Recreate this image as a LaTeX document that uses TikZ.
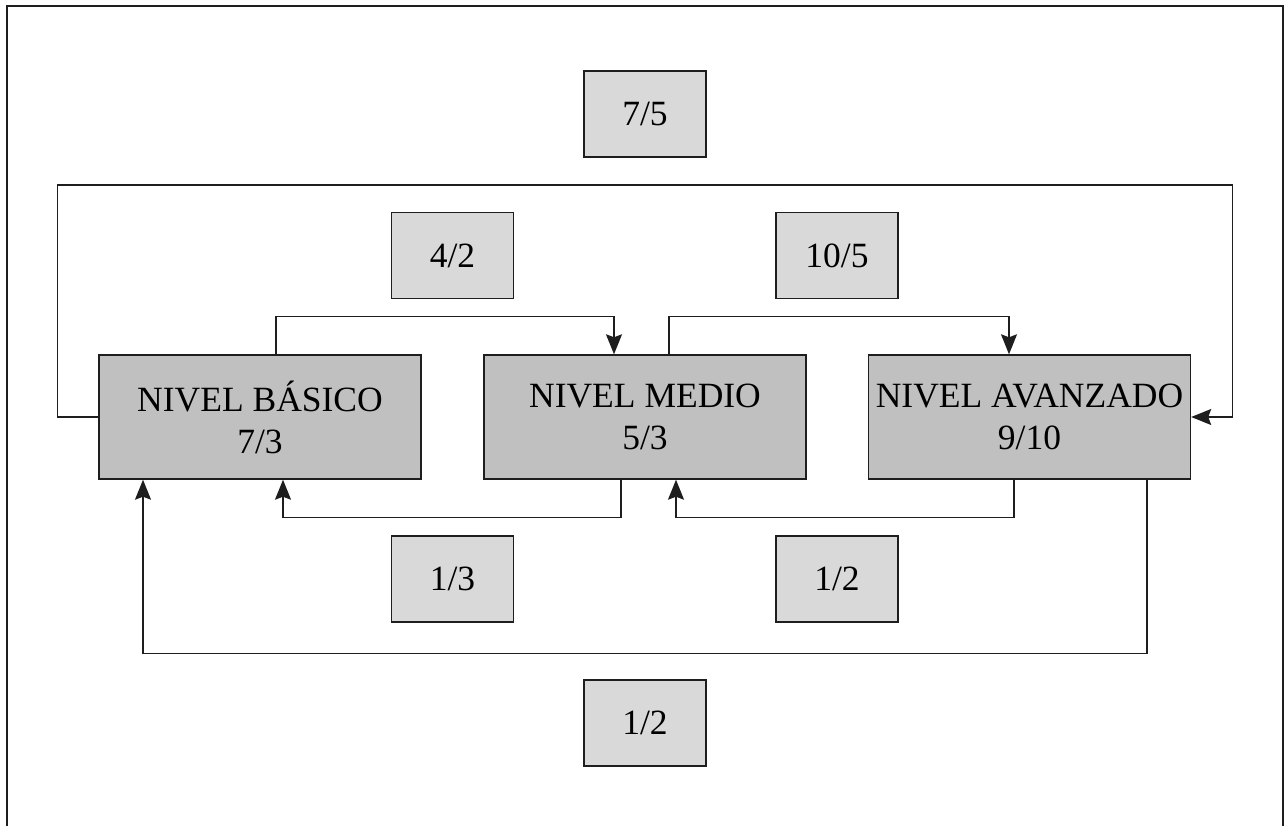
\documentclass[tikz,border=0pt]{standalone}
\usepackage{fontspec}
\setmainfont{Liberation Serif}
\usetikzlibrary{arrows.meta}
\definecolor{bigfill}{HTML}{C0C0C0}
\definecolor{smallfill}{HTML}{D9D9D9}
\definecolor{ln}{HTML}{1E1E1E}
\tikzset{
  level/.style={draw=ln, line width=1.4pt, fill=bigfill, minimum width=322pt, minimum height=124pt, align=center, inner sep=0pt, font=\fontsize{35.5}{42}\selectfont},
  lbl/.style={draw=ln, line width=1.4pt, fill=smallfill, minimum width=122pt, minimum height=86pt, inner sep=0pt, font=\fontsize{35.5}{42}\selectfont},
  conn/.style={draw=ln, line width=1.3pt},
  arr/.style={conn, -{Stealth[length=20pt,width=16pt,inset=3pt]}},
}
\begin{document}
\begin{tikzpicture}[x=1pt,y=-1pt]
\useasboundingbox (0,0) rectangle (1284,826);
\fill[white] (0,0) rectangle (1284,826);
\coordinate (fbl) at (7,830);
\coordinate (ftl) at (7,6);
\coordinate (ftr) at (1283,6);
\coordinate (fbr) at (1283,830);
\draw[ln, line width=1.8pt] (fbl) -- (ftl) -- (ftr) -- (fbr);

\node[level] (b1) at (260,417) {NIVEL BÁSICO\\7/3};
\node[level] (b2) at (645,417) {NIVEL MEDIO\\5/3};
\node[level] (b3) at (1029.5,417) {NIVEL AVANZADO\\9/10};

\node[lbl] (l75) at (645,114) {7/5};
\node[lbl] (l42) at (452.5,255.5) {4/2};
\node[lbl] (l105) at (837,255.5) {10/5};
\node[lbl] (l13) at (452.5,579) {1/3};
\node[lbl] (l12a) at (837,579) {1/2};
\node[lbl] (l12b) at (645,723) {1/2};

% forward connectors
\draw[arr] ([xshift=16pt]b1.north) -- ++(0,-38) -| ([xshift=-31pt]b2.north);
\draw[arr] ([xshift=24pt]b2.north) -- ++(0,-38) -| ([xshift=-20.5pt]b3.north);
% backward connectors
\draw[arr] ([xshift=-24pt]b2.south) -- ++(0,38) -| ([xshift=23pt]b1.south);
\draw[arr] ([xshift=-15.5pt]b3.south) -- ++(0,38) -| ([xshift=31pt]b2.south);
% long bottom
\draw[arr] ([xshift=117.5pt]b3.south) -- ++(0,174) -| ([xshift=-117pt]b1.south);
% long top
\draw[arr] (b1.west) -| ++(-41,-232) -| ([xshift=41pt]b3.east) -- (b3.east);
\end{tikzpicture}
\end{document}
